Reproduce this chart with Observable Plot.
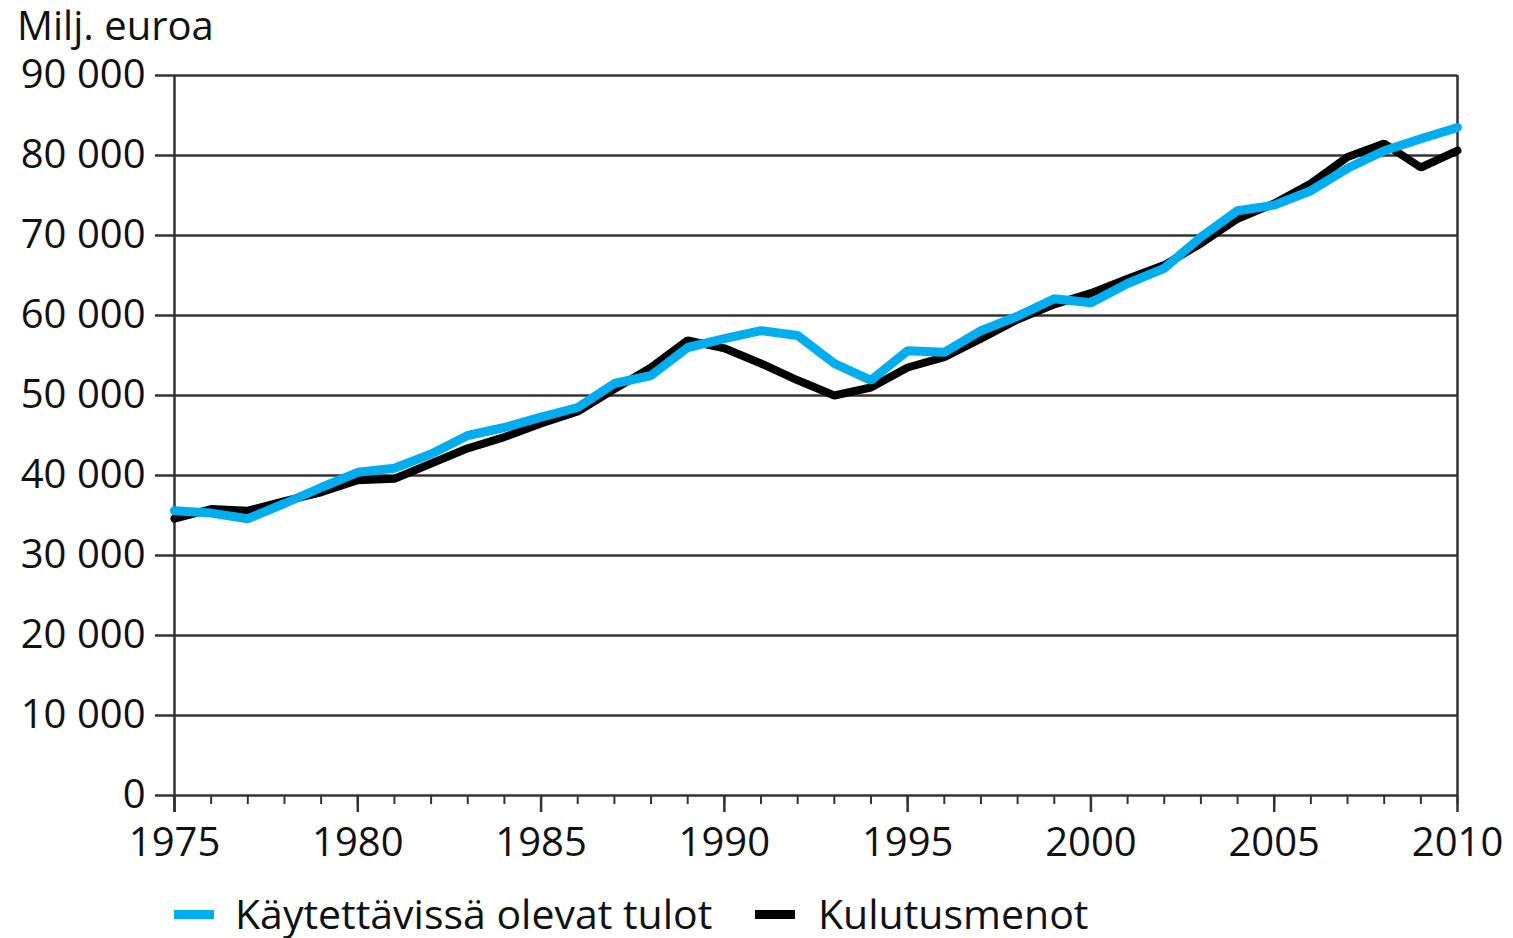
<!DOCTYPE html>
<html><head><meta charset="utf-8">
<script src="https://cdn.jsdelivr.net/npm/d3@7"></script>
<script src="https://cdn.jsdelivr.net/npm/@observablehq/plot@0.6"></script>
<style>
body{margin:0;background:#fff;font-family:"Open Sans",sans-serif;color:#111;}
#wrap{position:relative;width:1513px;height:938px;}
#title{position:absolute;left:17px;top:9px;font-size:40px;line-height:32px;white-space:nowrap;}
#chart{position:absolute;left:0;top:0;}
.sw{position:absolute;height:9px;width:40px;top:910px;}
.lt{position:absolute;top:891px;font-size:41px;line-height:44px;white-space:nowrap;}
</style>
</head><body>
<div id="wrap">
<div id="chart"></div>
<div id="title">Milj. euroa</div>
<div class="sw" style="left:174px;background:#00aeef"></div>
<div class="lt" style="left:235px">Käytettävissä olevat tulot</div>
<div class="sw" style="left:755px;background:#000"></div>
<div class="lt" style="left:818px">Kulutusmenot</div>
</div>
<script>
const years = [1975,1976,1977,1978,1979,1980,1981,1982,1983,1984,1985,1986,1987,1988,1989,1990,1991,1992,1993,1994,1995,1996,1997,1998,1999,2000,2001,2002,2003,2004,2005,2006,2007,2008,2009,2010];
const tulot = [35600,35300,34600,36500,38500,40400,40900,42700,45000,46000,47300,48500,51500,52500,56000,57100,58100,57500,54000,51900,55600,55400,58100,59900,62100,61600,64000,65900,69800,73100,73800,75600,78400,80600,82100,83500];
const kulutus = [34600,35800,35600,36800,37900,39400,39600,41500,43400,44800,46500,48000,50800,53500,56900,55900,54000,51900,50000,51000,53500,54800,57100,59500,61400,62800,64600,66300,69000,72100,74000,76500,79800,81500,78500,80600];
const yTicks = [0,10000,20000,30000,40000,50000,60000,70000,80000,90000];
const xMajor = [1975,1980,1985,1990,1995,2000,2005,2010];
const seriesNames = ["Käytettävissä olevat tulot","Kulutusmenot"];

const rowsT = years.map((y,i)=>({year:y, value:tulot[i], series:seriesNames[0]}));
const rowsK = years.map((y,i)=>({year:y, value:kulutus[i], series:seriesNames[1]}));
const fmt = d => d3.format(",")(d).replace(/,/g, " ");
const gridColor = "#333";

const chart = Plot.plot({
  width:1513, height:870,
  marginLeft:174, marginRight:56, marginTop:75, marginBottom:75,
  style:{fontFamily:"Open Sans", fontSize:"40px", color:"#111", background:"white", overflow:"visible"},
  x:{domain:[1975,2010]},
  y:{domain:[0,90000]},
  marks:[
    Plot.ruleY(yTicks, {stroke:gridColor, strokeWidth:2.5}),
    Plot.axisY({ticks:yTicks, tickSize:19, tickPadding:10, tickFormat:fmt, label:null, stroke:gridColor, strokeWidth:2.5, fill:"#111"}),
    Plot.axisX({ticks:years, tickSize:9, tickFormat:()=>"", label:null, stroke:gridColor, strokeWidth:2}),
    Plot.axisX({ticks:xMajor, tickSize:17, tickPadding:15, tickFormat:d=>String(d), label:null, stroke:gridColor, strokeWidth:2.5, fill:"#111"}),
    Plot.ruleX([1975], {stroke:gridColor, strokeWidth:2.5, insetBottom:-17}),
    Plot.ruleX([2010], {stroke:gridColor, strokeWidth:2.5}),
    Plot.line(rowsK, {x:"year", y:"value", stroke:"#000", strokeWidth:8, strokeLinejoin:"miter"}),
    Plot.line(rowsT, {x:"year", y:"value", stroke:"#00aeef", strokeWidth:9, strokeLinejoin:"miter"})
  ]
});
document.getElementById("chart").appendChild(chart);
</script>
</body></html>
